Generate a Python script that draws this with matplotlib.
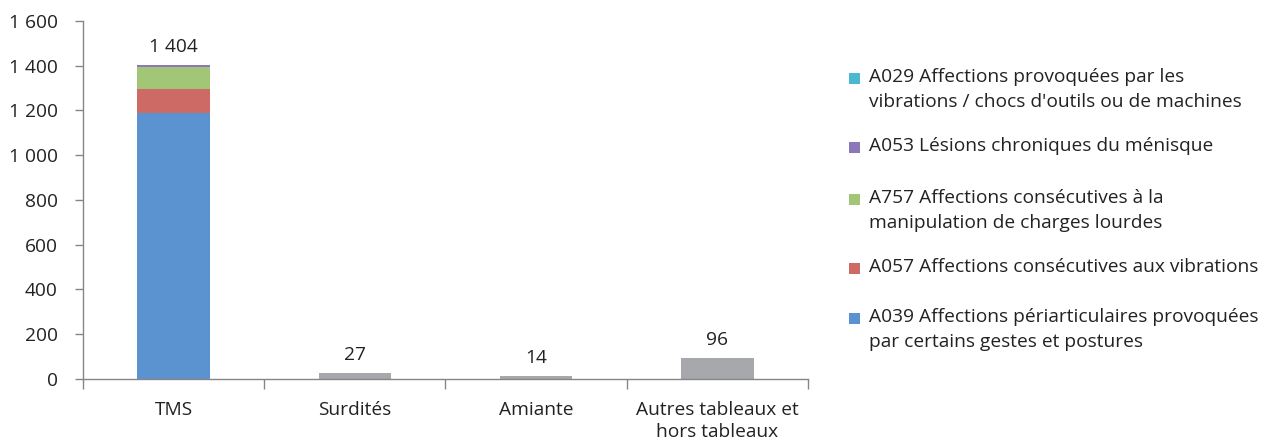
import numpy as np
import matplotlib
matplotlib.use("Agg")
import matplotlib.pyplot as plt
from matplotlib.ticker import FuncFormatter, FixedLocator
from matplotlib.patches import Rectangle

plt.rcParams['font.family'] = ['Open Sans', 'DejaVu Sans']

# données
categories = ['TMS', 'Surdités', 'Amiante', 'Autres tableaux et\nhors tableaux']
totals = [1404, 27, 14, 96]

# décomposition de la barre TMS (du bas vers le haut)
tms_labels = ['A039 Affections périarticulaires provoquées\npar certains gestes et postures',
              'A057 Affections consécutives aux vibrations',
              'A757 Affections consécutives à la\nmanipulation de charges lourdes',
              'A053 Lésions chroniques du ménisque',
              'A029 Affections provoquées par les\nvibrations / chocs d\'outils ou de machines']
tms_values = [1189, 107, 97, 9, 2]
tms_colors = ['#5B93D0', '#CD6A65', '#A0C676', '#8C78B8', '#4BB8D2']
other_color = '#A6A8AB'

fs = 13.8
txt_col = '#222222'

fig = plt.figure(figsize=(12.65, 4.43), dpi=100)
ax = fig.add_axes([0.0656, 0.1445, 0.5731, 0.8081])

x = np.arange(len(categories))
width = 0.40

bottom = 0
for val, col in zip(tms_values, tms_colors):
    ax.bar(x[0], val, width, bottom=bottom, color=col, linewidth=0)
    bottom += val
ax.bar(x[1:], totals[1:], width, color=other_color, linewidth=0)

for xi, t in zip(x, totals):
    ax.text(xi, t + 40, f"{t:,}".replace(',', ' '), ha='center', va='bottom',
            fontsize=fs, color=txt_col)

ax.set_xlim(-0.5, 3.5)
ax.set_ylim(0, 1600)
ax.set_yticks(np.arange(0, 1601, 200))
ax.yaxis.set_major_formatter(FuncFormatter(lambda v, p: f"{int(v):,}".replace(',', ' ')))
ax.set_xticks(x)
ax.set_xticklabels(categories, linespacing=1.3)
ax.xaxis.set_minor_locator(FixedLocator(np.arange(-0.5, 3.6, 1.0)))
ax.tick_params(axis='x', which='major', length=0, pad=16, labelsize=fs, colors=txt_col)
ax.tick_params(axis='x', which='minor', length=7, color='#868686', width=1)
ax.tick_params(axis='y', length=6, color='#868686', width=1, labelsize=fs,
               labelcolor=txt_col, pad=12)
for s in ['top', 'right']:
    ax.spines[s].set_visible(False)
for s in ['left', 'bottom']:
    ax.spines[s].set_color('#868686')
    ax.spines[s].set_linewidth(1)

# légende (ordre inverse de l'empilement)
leg_y = [78, 147, 199, 268, 318]
for lab, col, yp in zip(tms_labels[::-1], tms_colors[::-1], leg_y):
    fy = 1 - yp / 443
    fig.patches.append(Rectangle((849 / 1265, fy - 5.5 / 443), 11 / 1265, 11 / 443,
                                 transform=fig.transFigure, color=col, linewidth=0))
    fig.text(869 / 1265, fy + 10 / 443, lab, ha='left', va='top', fontsize=fs,
             color=txt_col, linespacing=1.5)

fig.savefig('out.png', dpi=100)
